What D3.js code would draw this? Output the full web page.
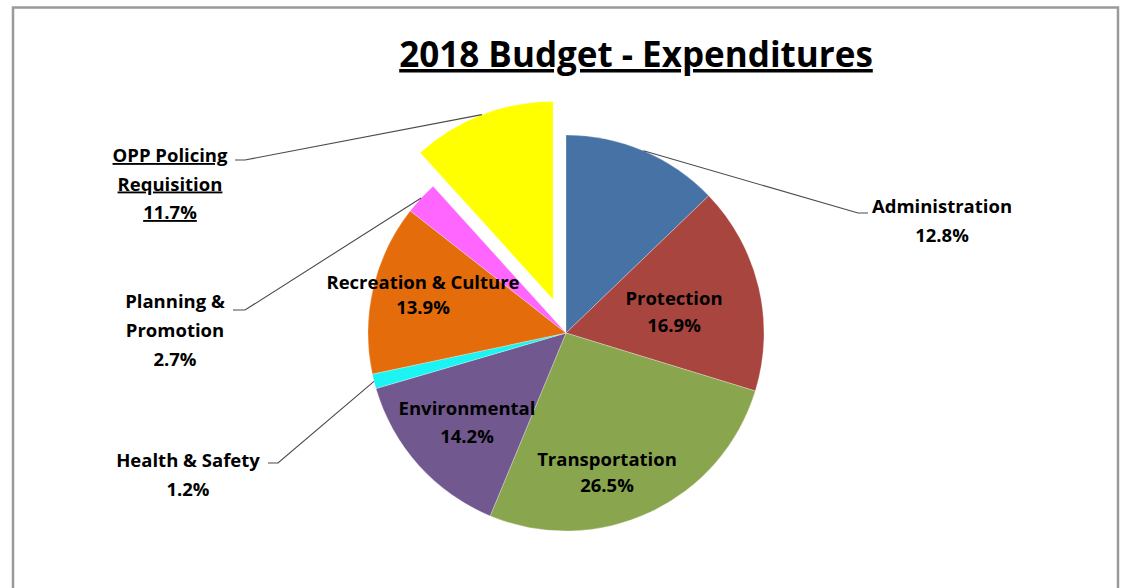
<!DOCTYPE html>
<html>
<head>
<meta charset="utf-8">
<script src="https://cdn.jsdelivr.net/npm/d3@7"></script>
<style>
  html, body { margin: 0; padding: 0; background: #fff; }
  svg { display: block; }
  text { font-family: "Open Sans", Lato, sans-serif; font-weight: bold; fill: #000; font-variant-ligatures: none; }
</style>
</head>
<body>
<svg id="chart" width="1125" height="588"></svg>
<script>
// ---- data ----
const categories = ["Administration", "Protection", "Transportation", "Environmental",
                    "Health & Safety", "Recreation & Culture", "Planning & Promotion", "OPP Policing Requisition"];
const values = [12.8, 16.9, 26.5, 14.2, 1.2, 13.9, 2.7, 11.7];
const labelLines = [
  ["Administration", "12.8%"],
  ["Protection", "16.9%"],
  ["Transportation", "26.5%"],
  ["Environmental", "14.2%"],
  ["Health & Safety", "1.2%"],
  ["Recreation & Culture", "13.9%"],
  ["Planning &", "Promotion", "2.7%"],
  ["OPP Policing", "Requisition", "11.7%"]
];
const titleText = "2018 Budget - Expenditures";

// ---- styles / layout ----
const colors = ["#4672A6", "#A9453F", "#89A54E", "#71588F", "#1CF3F3", "#E46C0A", "#FF66FF", "#FFFF00"];
const explode = [0, 0, 0, 0, 0, 0, 0, 36];
const cx = 566, cy = 333, R = 198;
const labelLayout = [
  { x: 942, y: 213, gap: 28.5, out: true, elbow: [858, 213], end: [868, 213] },
  { x: 674, y: 305, gap: 26.5 },
  { x: 607, y: 466, gap: 26 },
  { x: 467, y: 415, gap: 28 },
  { x: 188, y: 467, gap: 29, out: true, elbow: [278, 463], end: [268, 463] },
  { x: 423, y: 288.5, gap: 25 },
  { x: 175, y: 308, gap: 29, out: true, elbow: [245, 310], end: [233, 310] },
  { x: 170, y: 162, gap: 28.5, out: true, elbow: [245, 160], end: [235, 160], underline: true }
];

const svg = d3.select("#chart");

svg.append("rect")
  .attr("x", 13).attr("y", 7.5).attr("width", 1105).attr("height", 590)
  .attr("fill", "none").attr("stroke", "#9a9a9a").attr("stroke-width", 2.5);

svg.append("text")
  .attr("x", 636).attr("y", 67)
  .attr("text-anchor", "middle")
  .style("font-size", "35px")
  .style("text-decoration", "underline")
  .text(titleText);

const pie = d3.pie().sort(null).value(d => d)(values);
const arc = d3.arc().innerRadius(0).outerRadius(R);
const edgeArc = d3.arc().innerRadius(R).outerRadius(R);

const g = svg.append("g").attr("transform", `translate(${cx},${cy})`);

function offsetOf(d, i) {
  const a = (d.startAngle + d.endAngle) / 2;
  return [Math.sin(a) * explode[i], -Math.cos(a) * explode[i]];
}

g.selectAll("path.slice")
  .data(pie)
  .join("path")
  .attr("class", "slice")
  .attr("transform", (d, i) => { const o = offsetOf(d, i); return `translate(${o[0]},${o[1]})`; })
  .attr("d", arc)
  .attr("fill", (d, i) => colors[i])
  .attr("stroke", "rgba(255,255,255,0.35)")
  .attr("stroke-width", 0.8);

pie.forEach((d, i) => {
  const L = labelLayout[i];
  if (!L.out) return;
  const o = offsetOf(d, i);
  const c = edgeArc.centroid(d);
  const start = [cx + c[0] + o[0], cy + c[1] + o[1]];
  svg.append("polyline")
    .attr("points", [start, L.elbow, L.end].map(p => p.join(",")).join(" "))
    .attr("fill", "none")
    .attr("stroke", "#4a4a4a")
    .attr("stroke-width", 1.1);
});

labelLines.forEach((lines, i) => {
  const L = labelLayout[i];
  const t = svg.append("text")
    .attr("text-anchor", "middle")
    .style("font-size", "18.5px");
  if (L.underline) t.style("text-decoration", "underline");
  lines.forEach((ln, k) => {
    t.append("tspan").attr("x", L.x).attr("y", L.y + k * L.gap).text(ln);
  });
});
</script>
</body>
</html>
